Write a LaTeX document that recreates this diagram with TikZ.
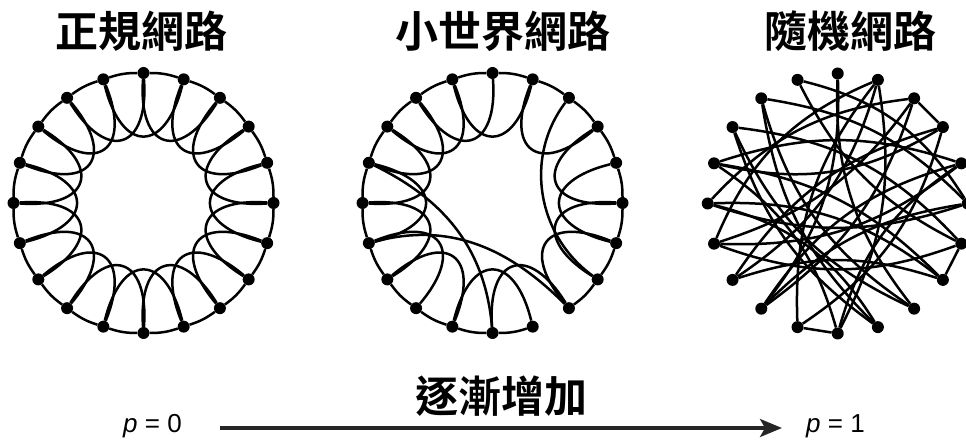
\documentclass[tikz,border=0pt]{standalone}
\usepackage{fontspec}
\setmainfont{Liberation Sans}
\IfFontExistsTF{Noto Sans CJK TC Bold}{\newfontfamily\cjk{Noto Sans CJK TC Bold}}{\newfontfamily\cjk[FakeBold=1.5]{Noto Sans CJK TC}}
\usetikzlibrary{calc,arrows.meta}
\begin{document}
\begin{tikzpicture}[x=1pt,y=1pt,
  dot/.style={circle,fill=black,inner sep=0pt,minimum size=12pt},
  lnk/.style={line width=2.5pt,black},
  title/.style={font=\cjk\fontsize{43}{43}\selectfont,inner sep=0pt},
  plab/.style={font=\fontsize{26}{26}\selectfont,inner sep=0pt,anchor=base west},
  arr/.style={line width=3.4pt,black!85,-{Stealth[length=22pt,width=18pt,inset=5pt]}}]
\useasboundingbox (0,0) rectangle (966,444);
\coordinate (Lc) at (143.5,241);
\coordinate (Sc) at (492.5,241);
\coordinate (Rc) at (837.7,240.5);
\foreach \k in {0,...,19} {
  \node[dot] (L\k) at ($(Lc)+(18*\k:130)$) {};
  \node[dot] (S\k) at ($(Sc)+(18*\k:130)$) {};
  \node[dot] (R\k) at ($(Rc)+(18*\k:130)$) {};
}
% regular lattice
\foreach \k in {0,...,19} {
  \pgfmathtruncatemacro\j{mod(\k+1,20)}
  \pgfmathtruncatemacro\m{mod(\k+2,20)}
  \draw[lnk] (L\k) to[bend right=9] (L\j);
  \draw[lnk] (L\k) .. controls ($(Lc)+(18*\k-6:54)$) and ($(Lc)+(18*\m+6:54)$) .. (L\m);
}
% small world
\foreach \k in {0,...,15,17,18,19} {
  \pgfmathtruncatemacro\j{mod(\k+1,20)}
  \draw[lnk] (S\k) to[bend right=9] (S\j);
}
\foreach \k in {0,2,4,5,6,7,8,9,10,11,12,14,15,17,18,19} {
  \pgfmathtruncatemacro\m{mod(\k+2,20)}
  \draw[lnk] (S\k) .. controls ($(Sc)+(18*\k-6:54)$) and ($(Sc)+(18*\m+6:54)$) .. (S\m);
}
\draw[lnk] (S9) to[out=-26,in=95] (S15);
\draw[lnk] (S11) to[out=15,in=135] (S17);
\draw[lnk] (S3) to[out=233,in=144] (S18);
% random
\foreach \a/\b/\bb in {2/3/0,18/19/0,14/15/0,
  5/13/20,5/17/-20,6/0/22,6/19/-18,4/12/20,4/11/-22,4/15/18,3/10/-20,
  7/0/18,7/17/-20,8/19/20,8/16/-18,2/9/22,2/12/-20,9/1/18,1/13/-20,1/11/20,
  10/0/-18,10/18/20,11/19/-20,12/18/18,13/3/-18,17/8/20,14/2/-20,16/7/18,
  16/10/-22,15/1/20,18/9/-18,14/4/20,15/9/-20,13/0/18,11/3/-18} {
  \draw[lnk] (R\a) to[bend left=\bb] (R\b);
}
% labels
\node[title] (t1) at (141,413) {正規網路};
\node[title] (t2) at (503,413) {小世界網路};
\node[title] (t3) at (850,413) {隨機網路};
\node[title] (inc) at (501,48) {逐漸增加};
\node[plab] (p0) at (123,11) {\textit{p} = 0};
\node[plab] (p1) at (806,11) {\textit{p} = 1};
\coordinate (a0) at (220,16);
\coordinate (a1) at (782,16);
\draw[arr] (a0) -- (a1);
\end{tikzpicture}
\end{document}
